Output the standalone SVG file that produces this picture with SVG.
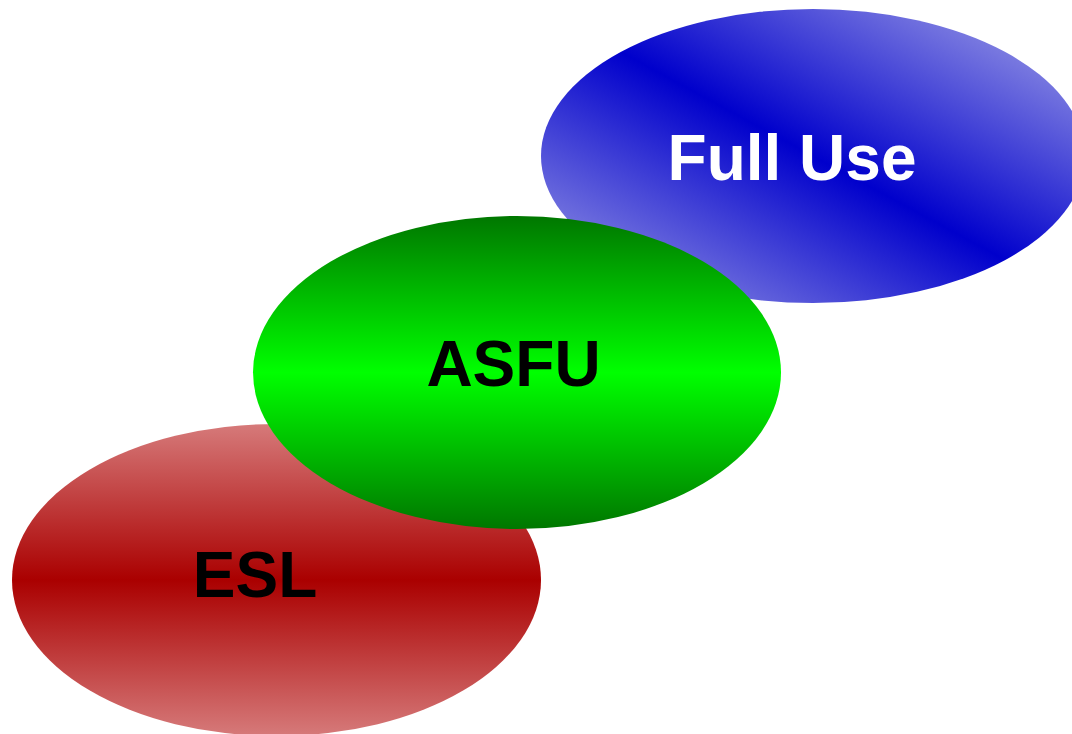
<svg xmlns="http://www.w3.org/2000/svg" width="1072" height="734" viewBox="0 0 1072 734">
  <defs>
    <linearGradient id="gBlue" x1="1" y1="0" x2="0" y2="1">
      <stop offset="0" stop-color="#ababe8"/>
      <stop offset="0.5" stop-color="#0000cc"/>
      <stop offset="1" stop-color="#a6a6e6"/>
    </linearGradient>
    <linearGradient id="gGreen" x1="0" y1="0" x2="0" y2="1">
      <stop offset="0" stop-color="#007700"/>
      <stop offset="0.5" stop-color="#00ff00"/>
      <stop offset="1" stop-color="#007700"/>
    </linearGradient>
    <linearGradient id="gRed" x1="0" y1="0" x2="0" y2="1">
      <stop offset="0" stop-color="#d67a7a"/>
      <stop offset="0.5" stop-color="#aa0000"/>
      <stop offset="1" stop-color="#d67a7a"/>
    </linearGradient>
  </defs>
  <style>
    .lbl { font-family: "Liberation Sans", Arial, sans-serif; font-weight: bold; font-size: 64px; text-anchor: middle; }
  </style>
  <g id="full-use">
    <ellipse cx="813" cy="156" rx="272" ry="147" fill="url(#gBlue)"/>
    <text class="lbl" x="792" y="180" fill="#ffffff">Full Use</text>
  </g>
  <g id="esl">
    <ellipse cx="276.5" cy="580" rx="264.5" ry="156" fill="url(#gRed)"/>
    <text class="lbl" x="255" y="597" fill="#000000">ESL</text>
  </g>
  <g id="asfu">
    <ellipse cx="517" cy="372.5" rx="264" ry="156.5" fill="url(#gGreen)"/>
    <text class="lbl" x="513.5" y="386" fill="#000000">ASFU</text>
  </g>
  <g id="connectors"/>
</svg>
